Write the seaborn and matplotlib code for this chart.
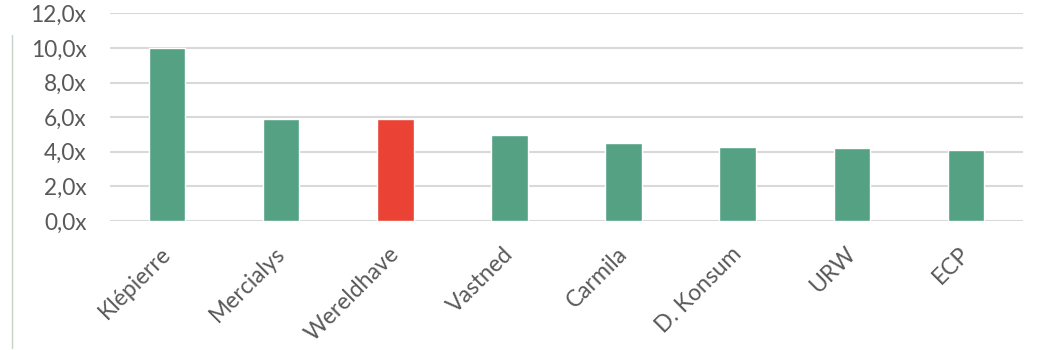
import matplotlib
matplotlib.use("Agg")
import matplotlib.pyplot as plt
import matplotlib.transforms as mtrans
import seaborn as sns
import pandas as pd
from matplotlib.lines import Line2D
from matplotlib.ticker import FuncFormatter

companies = ["Klépierre", "Mercialys", "Wereldhave", "Vastned", "Carmila", "D. Konsum", "URW", "ECP"]
values = [10.0, 5.87, 5.92, 5.0, 4.5, 4.3, 4.2, 4.1]
colors = ["#55A184", "#55A184", "#EA4335", "#55A184", "#55A184", "#55A184", "#55A184", "#55A184"]
yticks = [0, 2, 4, 6, 8, 10, 12]

sns.set_theme(style="white")
plt.rcParams['font.family'] = ['Lato', 'DejaVu Sans']

df = pd.DataFrame({"company": companies, "value": values})

fig = plt.figure(figsize=(10.4, 3.5), dpi=100)
ax = fig.add_axes([110/1040, 1 - 221/350, (1023 - 110)/1040, (221 - 13.4)/350])

sns.barplot(data=df, x="company", y="value", hue="company", palette=colors,
            legend=False, width=0.32, ax=ax, saturation=1)

ax.set_ylim(0, 12)
ax.set_yticks(yticks)
ax.yaxis.set_major_formatter(FuncFormatter(lambda v, p: f"{v:.1f}".replace(".", ",") + "x"))
ax.set_xlim(-0.5, len(companies) - 0.5)
ax.grid(axis="y", color="#D9D9D9", linewidth=1.5)
ax.set_axisbelow(True)
for s in ax.spines.values():
    s.set_visible(False)
ax.set_xlabel("")
ax.set_ylabel("")
ax.tick_params(axis="y", length=0, pad=17, labelsize=16.3, labelcolor="#595959")
ax.set_xticks(range(len(companies)))
ax.tick_params(axis="x", length=0, pad=16)
ax.set_xticklabels(companies, rotation=45, ha="right", va="top", rotation_mode="anchor",
                   fontsize=16.5, color="#595959")
shift = mtrans.ScaledTranslation(-7/100, 0, fig.dpi_scale_trans)
for lbl in ax.get_xticklabels():
    lbl.set_transform(lbl.get_transform() + shift)

fig.add_artist(Line2D([12/1040, 12/1040], [1 - 348/350, 1 - 35/350],
                      transform=fig.transFigure, color="#C5D3C9", linewidth=1))

fig.savefig("out.png", dpi=100)
